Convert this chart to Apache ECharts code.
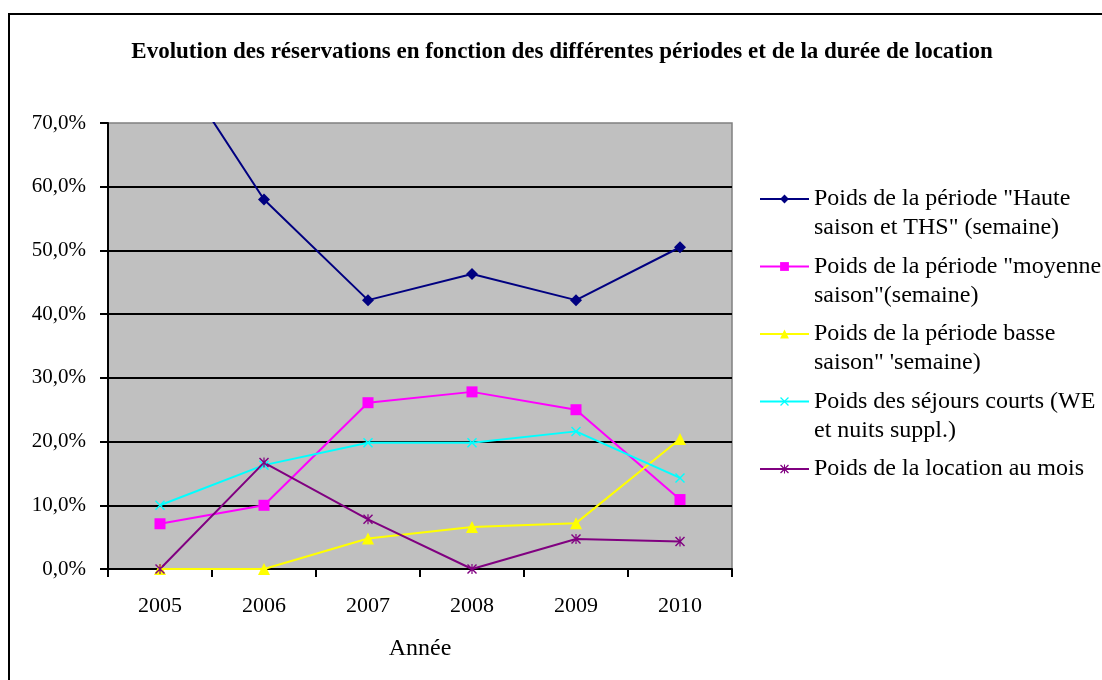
<!DOCTYPE html>
<html>
<head>
<meta charset="utf-8">
<script src="https://cdn.jsdelivr.net/npm/echarts@6/dist/echarts.min.js"></script>
<style>
  html, body { margin: 0; padding: 0; background: #ffffff; }
  #chart { width: 1102px; height: 680px; }
</style>
</head>
<body>
<div id="chart"></div>
<script>
// Années (axe des catégories)
const years = ['2005', '2006', '2007', '2008', '2009', '2010'];

// Poids de chaque type de réservation, en %
const hauteSaison   = [83.0, 58.0, 42.2, 46.3, 42.2, 50.5];
const moyenneSaison = [7.1, 10.0, 26.1, 27.8, 25.0, 10.9];
const basseSaison   = [0.0, 0.0, 4.8, 6.6, 7.2, 20.4];
const sejoursCourts = [10.0, 16.3, 19.8, 19.8, 21.6, 14.3];
const locationMois  = [0.0, 16.7, 7.8, 0.0, 4.7, 4.3];

// Graduations de l'axe vertical
const yMin = 0, yMax = 70, yStep = 10;

const seriesNames = [
  'Poids de la période "Haute saison et THS" (semaine)',
  'Poids de la période "moyenne saison"(semaine)',
  'Poids de la période basse saison" \'semaine)',
  'Poids des séjours courts (WE et nuits suppl.)',
  'Poids de la location au mois'
];
// Texte de légende, coupé sur deux lignes comme dans le classeur
const legendLines = [
  ['Poids de la période "Haute', 'saison et THS" (semaine)'],
  ['Poids de la période "moyenne', 'saison"(semaine)'],
  ['Poids de la période basse', 'saison" \'semaine)'],
  ['Poids des séjours courts (WE', 'et nuits suppl.)'],
  ['Poids de la location au mois']
];

const SERIF = '"Liberation Serif", "Times New Roman", serif';

// Marqueurs "x" et "*" dessinés comme des formes pleines
const CROSS = 'path://M0,1L1,0L5,4L9,0L10,1L6,5L10,9L9,10L5,6L1,10L0,9L4,5Z';
const STAR  = 'path://M0,1L1,0L5,4L9,0L10,1L6,5L10,9L9,10L5,6L1,10L0,9L4,5ZM4.4,0L5.6,0L5.6,10L4.4,10Z';

const styles = [
  { color: '#000080', symbol: 'diamond',  size: 12 },
  { color: '#FF00FF', symbol: 'rect',     size: 11 },
  { color: '#FFFF00', symbol: 'triangle', size: 12 },
  { color: '#00FFFF', symbol: CROSS,      size: 10 },
  { color: '#800080', symbol: STAR,       size: 10 }
];
const values = [hauteSaison, moyenneSaison, basseSaison, sejoursCourts, locationMois];

const chart = echarts.init(document.getElementById('chart'), null, { renderer: 'canvas' });

const series = values.map((vals, i) => ({
  name: seriesNames[i],
  type: 'line',
  data: vals,
  symbol: styles[i].symbol,
  symbolSize: styles[i].size,
  showSymbol: true,
  showAllSymbol: true,
  clip: true,
  lineStyle: { color: styles[i].color, width: 2 },
  itemStyle: { color: styles[i].color, borderWidth: 0 },
  emphasis: { disabled: true },
  animation: false
}));

// Une ligne vide avant (et après pour une entrée d'une seule ligne)
// place le marqueur de légende en face de la première ligne.
const legendLabel = {};
seriesNames.forEach((n, i) => {
  const l = legendLines[i];
  legendLabel[n] = '\n' + l.join('\n') + (l.length === 1 ? '\n' : '');
});

chart.setOption({
  animation: false,
  backgroundColor: '#ffffff',
  textStyle: { fontFamily: SERIF, color: '#000' },
  title: {
    text: 'Evolution des réservations en fonction des différentes périodes et de la durée de location',
    left: 562,
    top: 41,
    padding: 0,
    textAlign: 'center',
    textStyle: { fontFamily: SERIF, fontWeight: 'bold', fontSize: 23, color: '#000' }
  },
  legend: {
    orient: 'vertical',
    left: 759,
    top: 155.5,
    padding: 0,
    itemGap: -19.5,
    itemWidth: 49,
    itemHeight: 11,
    selectedMode: false,
    data: seriesNames,
    formatter: name => legendLabel[name],
    textStyle: { fontFamily: SERIF, fontSize: 24, lineHeight: 29, color: '#000' }
  },
  grid: {
    left: 108, top: 123, width: 624, height: 446,
    show: true,
    backgroundColor: '#C0C0C0',
    borderColor: '#808080',
    borderWidth: 1.5
  },
  xAxis: {
    type: 'category',
    data: years,
    boundaryGap: true,
    name: 'Année',
    nameLocation: 'middle',
    nameGap: 68,
    nameTextStyle: { fontFamily: SERIF, fontSize: 24, color: '#000' },
    axisLine: { lineStyle: { color: '#000', width: 2 } },
    axisTick: { show: true, inside: false, length: 8, lineStyle: { color: '#000', width: 2 } },
    axisLabel: { margin: 26, fontFamily: SERIF, fontSize: 22, color: '#000' },
    splitLine: { show: false }
  },
  yAxis: {
    type: 'value',
    min: yMin, max: yMax, interval: yStep,
    axisLine: { show: true, lineStyle: { color: '#000', width: 2 } },
    axisTick: { show: true, inside: false, length: 8, lineStyle: { color: '#000', width: 2 } },
    axisLabel: {
      margin: 22, fontFamily: SERIF, fontSize: 21, color: '#000',
      formatter: v => v.toFixed(1).replace('.', ',') + '%'
    },
    splitLine: { show: true, showMaxLine: false, lineStyle: { color: '#000', width: 2 } }
  },
  graphic: [{
    type: 'rect',
    shape: { x: 9, y: 14, width: 1200, height: 800 },
    style: { fill: null, stroke: '#000', lineWidth: 2 },
    silent: true,
    z: 100
  }],
  series: series
});
</script>
</body>
</html>
